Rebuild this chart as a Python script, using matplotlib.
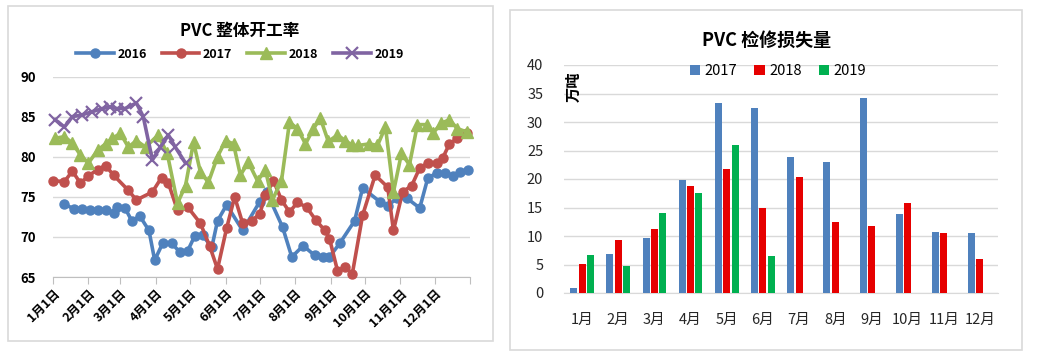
import matplotlib
matplotlib.use("Agg")
import matplotlib.pyplot as plt
from matplotlib.patches import Rectangle
import numpy as np

plt.rcParams['font.family'] = ['Noto Sans CJK SC', 'DejaVu Sans']

# ---------------- data: left chart (PVC overall operating rate, %) ----------------
days_2016 = [10, 18, 25, 32, 39, 46, 53, 56, 63, 69, 76, 84, 89, 96, 104, 111, 118, 124, 131,
             139, 144, 152, 166, 181, 187, 201, 209, 219, 229, 236, 242, 251, 264, 271, 286,
             293, 301, 310, 321, 328, 336, 343, 350, 356, 363]
vals_2016 = [74.1, 73.5, 73.5, 73.4, 73.4, 73.3, 73.0, 73.7, 73.6, 72.0, 72.6, 70.8, 67.1, 69.2,
             69.2, 68.1, 68.3, 70.1, 70.2, 68.7, 72.0, 74.0, 70.8, 74.4, 75.6, 71.2, 67.5, 68.9,
             67.7, 67.5, 67.5, 69.2, 72.0, 76.1, 74.4, 73.9, 74.8, 74.8, 73.6, 77.3, 78.0, 78.0,
             77.6, 78.1, 78.3]

days_2017 = [0, 10, 17, 24, 31, 39, 46, 53, 66, 73, 87, 95, 101, 109, 118, 129, 137, 144, 152,
             159, 166, 174, 181, 186, 193, 200, 207, 214, 222, 230, 238, 242, 249, 256, 262,
             271, 282, 293, 298, 306, 314, 321, 328, 336, 341, 347, 354, 362]
vals_2017 = [77.0, 76.9, 78.2, 76.7, 77.6, 78.4, 78.9, 77.7, 75.8, 74.6, 75.6, 77.4, 76.7, 73.3,
             73.7, 71.7, 68.9, 66.0, 71.1, 75.0, 71.7, 72.0, 72.9, 75.2, 77.0, 74.6, 73.1, 74.3,
             73.7, 72.1, 70.8, 69.8, 65.8, 66.2, 65.4, 72.7, 77.7, 76.2, 70.8, 75.6, 76.4, 78.6,
             79.2, 79.2, 79.8, 81.6, 82.3, 83.0]

days_2018 = [2, 10, 17, 24, 31, 39, 46, 52, 59, 66, 73, 81, 92, 100, 109, 116, 123, 129, 136,
             144, 151, 158, 164, 171, 179, 186, 192, 200, 207, 214, 221, 228, 234, 241, 249,
             256, 262, 267, 277, 284, 291, 298, 305, 312, 319, 327, 333, 340, 347, 354, 362]
vals_2018 = [82.3, 82.5, 81.7, 80.2, 79.2, 80.8, 81.6, 82.3, 82.9, 81.2, 82.0, 81.2, 82.7, 80.4,
             74.2, 76.4, 81.8, 78.1, 76.8, 80.0, 82.0, 81.6, 77.7, 79.3, 77.0, 78.3, 74.6, 77.0,
             84.3, 83.5, 81.6, 83.5, 84.8, 81.9, 82.7, 82.0, 81.4, 81.4, 81.6, 81.4, 83.7, 75.6,
             80.4, 79.0, 84.0, 84.0, 83.0, 84.2, 84.6, 83.5, 83.1]

days_2019 = [2, 10, 17, 25, 34, 43, 50, 56, 63, 73, 79, 87, 94, 101, 107, 116]
vals_2019 = [84.6, 83.7, 85.0, 85.2, 85.6, 86.0, 86.2, 86.0, 86.0, 86.7, 85.0, 79.6, 81.2, 82.7,
             81.2, 79.2]

month_start_days = [0, 31, 59, 90, 120, 151, 181, 212, 243, 273, 304, 334]
date_labels = ['1月1日', '2月1日', '3月1日', '4月1日', '5月1日', '6月1日', '7月1日', '8月1日',
               '9月1日', '10月1日', '11月1日', '12月1日']

# ---------------- data: right chart (PVC maintenance loss, 10k tons) ----------------
months = ['1月', '2月', '3月', '4月', '5月', '6月', '7月', '8月', '9月', '10月', '11月', '12月']
loss_2017 = [0.9, 6.9, 9.6, 19.9, 33.3, 32.5, 23.9, 22.9, 34.2, 13.9, 10.7, 10.5]
loss_2018 = [5.1, 9.3, 11.2, 18.7, 21.7, 15.0, 20.3, 12.5, 11.8, 15.8, 10.6, 5.9]
loss_2019 = [6.6, 4.7, 14.0, 17.6, 25.9, 6.5, np.nan, np.nan, np.nan, np.nan, np.nan, np.nan]

W, H = 1059, 353
fig = plt.figure(figsize=(W / 100, H / 100), dpi=100)

def fx(px):
    return px / W

def fy(py):
    return 1 - py / H

# panel frames
fig.patches.append(Rectangle((fx(8), fy(341)), fx(493) - fx(8), fy(6) - fy(341),
                             transform=fig.transFigure, fill=False, edgecolor='#D9D9D9', lw=1.2))
fig.patches.append(Rectangle((fx(510), fy(350)), fx(1022) - fx(510), fy(10) - fy(350),
                             transform=fig.transFigure, fill=False, edgecolor='#D9D9D9', lw=1.2))

# ---------------- left chart ----------------
ax1 = fig.add_axes([fx(53), fy(277), fx(470) - fx(53), fy(76.5) - fy(277)])
c16, c17, c18, c19 = '#4F81BD', '#C0504D', '#9BBB59', '#8064A2'
ax1.plot(days_2016, vals_2016, color=c16, lw=2.6, marker='o', ms=6.5, label='2016', clip_on=False, zorder=3)
ax1.plot(days_2017, vals_2017, color=c17, lw=2.6, marker='o', ms=6.5, label='2017', clip_on=False, zorder=3)
ax1.plot(days_2018, vals_2018, color=c18, lw=2.6, marker='^', ms=8.5, label='2018', clip_on=False, zorder=3)
ax1.plot(days_2019, vals_2019, color=c19, lw=2.6, marker='x', ms=8.5, mew=1.6, label='2019', clip_on=False, zorder=4)

ax1.set_xlim(0, 365)
ax1.set_ylim(65, 90)
ax1.set_yticks([65, 70, 75, 80, 85, 90])
ax1.yaxis.grid(True, color='#D9D9D9', lw=1)
ax1.set_axisbelow(True)
for s in ['top', 'right', 'left']:
    ax1.spines[s].set_visible(False)
ax1.spines['bottom'].set_color('#BFBFBF')
ax1.tick_params(axis='y', length=0, labelsize=9.5, pad=12)
for t in ax1.get_yticklabels():
    t.set_fontweight('bold')
ax1.set_xticks(month_start_days + [365])
ax1.set_xticklabels(date_labels + [''], rotation=45, ha='right', rotation_mode='anchor',
                    fontsize=9, fontweight='bold')
ax1.tick_params(axis='x', length=5, color='#BFBFBF', pad=2)

fig.text(fx(240), fy(31), 'PVC 整体开工率', ha='center', va='center', fontsize=12, fontweight='bold')
leg1 = ax1.legend(loc='center', bbox_to_anchor=(fx(240), fy(54)), bbox_transform=fig.transFigure,
                  ncol=4, frameon=False, handlelength=3.0, columnspacing=1.2, handletextpad=0.3,
                  prop={'weight': 'bold', 'size': 9})

# ---------------- right chart ----------------
ax2 = fig.add_axes([fx(564), fy(293), fx(998) - fx(564), fy(65) - fy(293)])
x = np.arange(len(months))
bw = 0.19
step = 0.23
ax2.bar(x - step, loss_2017, bw, color='#4F81BD', label='2017', zorder=3)
ax2.bar(x, loss_2018, bw, color='#E60000', label='2018', zorder=3)
ax2.bar(x + step, loss_2019, bw, color='#00B050', label='2019', zorder=3)
ax2.set_xlim(-0.5, 11.5)
ax2.set_ylim(0, 40)
ax2.set_yticks(range(0, 41, 5))
ax2.yaxis.grid(True, color='#D9D9D9', lw=1)
ax2.set_axisbelow(True)
for s in ['top', 'right', 'left']:
    ax2.spines[s].set_visible(False)
ax2.spines['bottom'].set_color('#D9D9D9')
ax2.set_xticks(x)
ax2.set_xticklabels(months, fontsize=10.5)
ax2.tick_params(axis='x', length=0, pad=14, colors='#262626')
ax2.tick_params(axis='y', length=0, labelsize=10.5, pad=15, colors='#262626')

fig.text(fx(767), fy(40), 'PVC 检修损失量', ha='center', va='center', fontsize=13, fontweight='bold')
fig.text(fx(574), fy(87), '万吨', ha='center', va='center', rotation=90, fontsize=11, fontweight='bold')
ax2.legend(loc='center', bbox_to_anchor=(fx(778), fy(71)), bbox_transform=fig.transFigure,
           ncol=3, frameon=False, handlelength=0.7, handleheight=0.7, columnspacing=1.2,
           handletextpad=0.3, prop={'size': 10.5})

fig.savefig('out.png', dpi=100)
